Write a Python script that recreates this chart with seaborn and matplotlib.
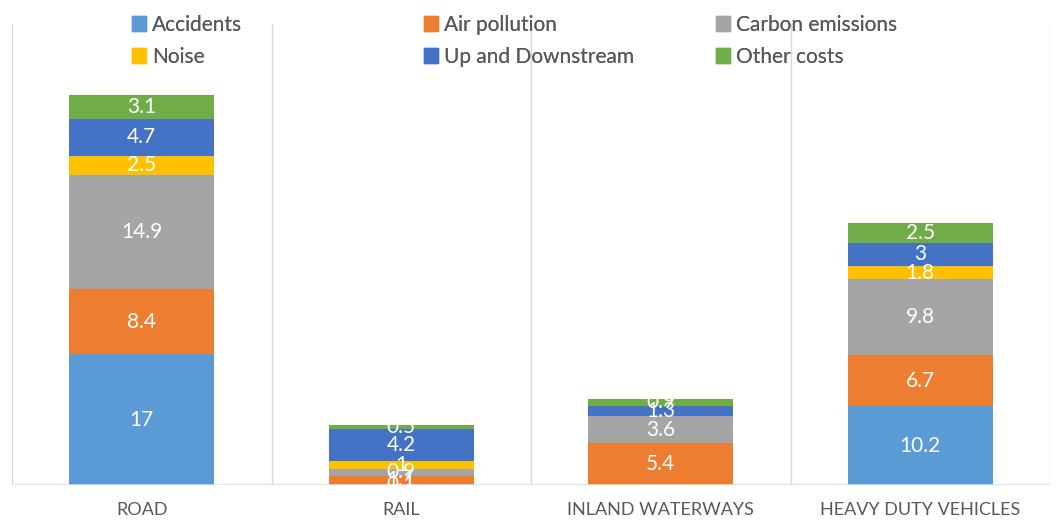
import pandas as pd
import numpy as np
import matplotlib.pyplot as plt
import seaborn as sns

# データ
modes = ["ROAD", "RAIL", "INLAND WATERWAYS", "HEAVY DUTY VEHICLES"]
cost_types = ["Accidents", "Air pollution", "Carbon emissions", "Noise",
              "Up and Downstream", "Other costs"]
accidents = [17, 0.1, 0, 10.2]
air_pollution = [8.4, 1.1, 5.4, 6.7]
carbon_emissions = [14.9, 0.9, 3.6, 9.8]
noise = [2.5, 1, 0, 1.8]
up_downstream = [4.7, 4.2, 1.3, 3]
other_costs = [3.1, 0.5, 0.9, 2.5]

colors = ["#5B9BD5", "#ED7D31", "#A5A5A5", "#FFC000", "#4472C4", "#70AD47"]

series = [accidents, air_pollution, carbon_emissions, noise, up_downstream, other_costs]

sns.set_style("white")
plt.rcParams['font.family'] = ['Lato', 'DejaVu Sans']

fig = plt.figure(figsize=(10.57, 5.2), dpi=100)
ax = fig.add_axes([12 / 1057, 35 / 520, 1038 / 1057, 485 / 520])

# 積み上げ棒グラフ
bottom = np.zeros(len(modes))
for name, vals, col in zip(cost_types, series, colors):
    df = pd.DataFrame({"mode": modes, "value": vals})
    sns.barplot(data=df, x="mode", y="value", color=col, width=0.56,
                bottom=bottom, ax=ax, label=name, saturation=1, linewidth=0)
    cont = ax.containers[-1]
    labels = [("" if v == 0 else f"{v:g}") for v in vals]
    ax.bar_label(cont, labels=labels, label_type="center", color="white",
                 fontsize=15)
    bottom = bottom + np.array(vals)

ax.set_ylim(0, 63)
ax.set_xlim(-0.5, 3.5)
ax.set_yticks([])
ax.set_xlabel("")
ax.set_ylabel("")
for s in ax.spines.values():
    s.set_visible(False)
ax.axhline(0, color="#D9D9D9", lw=1.2)
for xv in [-0.5, 0.5, 1.5, 2.5, 3.5]:
    ax.axvline(xv, ymin=0, ymax=(485 - 24) / 485, color="#D9D9D9", lw=1)
ax.tick_params(axis="x", length=0, pad=12, labelsize=13, labelcolor="#595959")

# 凡例 (列ごとに配置)
handles = [plt.Rectangle((0, 0), 1, 1, color=c) for c in colors]
leg_cols = [(0, 3, 117), (1, 4, 409), (2, 5, 701)]
for i, j, xpix in leg_cols:
    leg = fig.legend([handles[i], handles[j]], [cost_types[i], cost_types[j]],
                     loc="upper left", bbox_to_anchor=(xpix / 1057, 1.0),
                     frameon=False, fontsize=15, handlelength=0.7,
                     handleheight=0.7, handletextpad=0.3, labelspacing=0.6,
                     borderpad=0.2, labelcolor="#595959")
    fig.add_artist(leg)
if ax.get_legend() is not None:
    ax.get_legend().remove()

fig.savefig("out.png", dpi=100)
